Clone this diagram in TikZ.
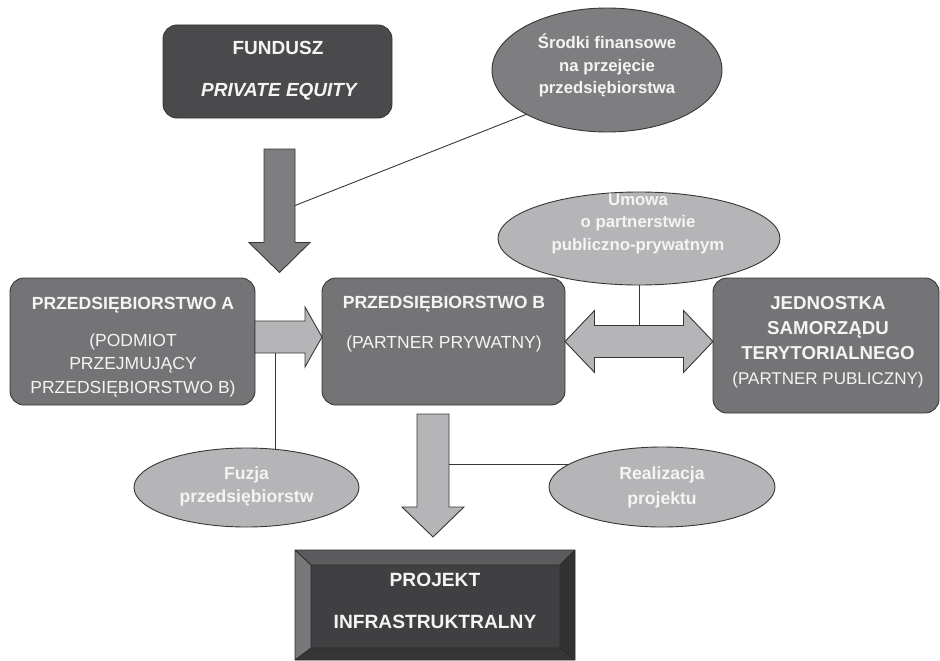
\documentclass[tikz,border=0pt]{standalone}
\usepackage{fontspec}
\setmainfont{Liberation Sans}
\usetikzlibrary{shapes.geometric,calc,backgrounds}
\definecolor{dk}{HTML}{4A4A4C}
\definecolor{md}{HTML}{747477}
\definecolor{mg}{HTML}{7E7E81}
\definecolor{lt}{HTML}{B5B5B8}
\definecolor{ol}{HTML}{363636}
\definecolor{tx}{HTML}{F4F4F4}
\definecolor{bvin}{HTML}{404042}
\definecolor{bvtop}{HTML}{5C5C5E}
\definecolor{bvleft}{HTML}{78787B}
\definecolor{bvright}{HTML}{323234}
\definecolor{bvbot}{HTML}{363638}
\newcommand\fsz[1]{\fontsize{#1}{21}\selectfont}
\newcommand\vblock[6]{\draw[#6] let \p1=(#1), \p2=(#2) in
  (\x1-#3,\y1) -- (\x1+#3,\y1) -- (\x1+#3,\y2+#5) -- (\x1+#4,\y2+#5) -- (\x2,\y2)
  -- (\x1-#4,\y2+#5) -- (\x1-#3,\y2+#5) -- cycle;}
\newcommand\hblock[6]{\draw[#6] let \p1=(#1), \p2=(#2) in
  (\x1,\y1+#3) -- (\x2-#5,\y1+#3) -- (\x2-#5,\y1+#4) -- (\x2,\y1) -- (\x2-#5,\y1-#4)
  -- (\x2-#5,\y1-#3) -- (\x1,\y1-#3) -- cycle;}
\newcommand\dblock[6]{\draw[#6] let \p1=(#1), \p2=(#2) in
  (\x1,\y1) -- (\x1+#5,\y1+#4) -- (\x1+#5,\y1+#3) -- (\x2-#5,\y1+#3) -- (\x2-#5,\y1+#4)
  -- (\x2,\y1) -- (\x2-#5,\y1-#4) -- (\x2-#5,\y1-#3) -- (\x1+#5,\y1-#3) -- (\x1+#5,\y1-#4) -- cycle;}
\begin{document}
\begin{tikzpicture}[x=1pt,y=-1pt,
  every node/.style={inner sep=0pt,outer sep=0pt},
  box/.style={draw=ol,line width=0.9pt,rounded corners=14pt},
  ell/.style={ellipse,draw=ol,line width=0.9pt},
  tb/.style={anchor=base,text=tx,font=\bfseries\fsz{#1}},
  tb/.default=17.6,
  tr/.style={anchor=base,text=tx,font=\fsz{#1}},
  tr/.default=17.5,
  et/.style={text=tx,align=center,font=\bfseries\fontsize{#1}{22.5}\selectfont},
  et/.default=16.7,
  barrow/.style={draw=ol,line width=0.9pt},
  link/.style={draw=ol,line width=0.9pt}]
\useasboundingbox (0,0) rectangle (940,661);

% boxes
\node[box,fill=dk,minimum width=229pt,minimum height=93pt] (fund) at (277.5,71.5) {};
\node[tb=19] (fund1) at (278,54.8) {FUNDUSZ};
\node[tb,font=\bfseries\itshape\fsz{19}] (fund2) at (279,96.8) {PRIVATE EQUITY};

\node[box,fill=md,minimum width=245pt,minimum height=127pt] (A) at (132.5,341.5) {};
\node[tb] (A1) at (133,309.3) {PRZEDSIĘBIORSTWO A};
\node[tr] (A2) at (133,346.3) {(PODMIOT};
\node[tr] (A3) at (133,369.3) {PRZEJMUJĄCY};
\node[tr] (A4) at (133,393.3) {PRZEDSIĘBIORSTWO B)};

\node[box,fill=md,minimum width=243pt,minimum height=127pt] (B) at (443.5,341.5) {};
\node[tb] (B1) at (444,308.3) {PRZEDSIĘBIORSTWO B};
\node[tr] (B2) at (444,348.3) {(PARTNER PRYWATNY)};

\node[box,fill=md,minimum width=226pt,minimum height=135pt] (J) at (826,345.5) {};
\node[tb=18.7] (J1) at (828,309.7) {JEDNOSTKA};
\node[tb=18.7] (J2) at (828,334.7) {SAMORZĄDU};
\node[tb=18.7] (J3) at (828,359.7) {TERYTORIALNEGO};
\node[tr=17] (J4) at (828,384.1) {(PARTNER PUBLICZNY)};

% ellipses
\node[ell,fill=mg,minimum width=230pt,minimum height=124pt] (sr) at (607,70) {};
\node[et] (srt) at (607,65.5) {Środki finansowe\\na przejęcie\\przedsiębiorstwa};
\node[ell,fill=lt,minimum width=282pt,minimum height=93pt] (um) at (639,238.5) {};
\node[et=16.8] (umt) at (638,223.5) {Umowa\\o partnerstwie\\publiczno-prywatnym};
\node[ell,fill=lt,minimum width=225pt,minimum height=79pt] (fu) at (246.5,487.5) {};
\node[et=17.6] (fut) at (246.5,486.5) {Fuzja\\przedsiębiorstw};
\node[ell,fill=lt,minimum width=226pt,minimum height=80pt] (re) at (662,487) {};
\node[et=17.6,font=\bfseries\fontsize{17.6}{25}\selectfont] (ret) at (662,487.5) {Realizacja\\projektu};

% project box (bevelled)
\node[minimum width=280pt,minimum height=110pt] (proj) at (435,605) {};
\coordinate (pnw) at ($(proj.north west)+(16,15)$);
\coordinate (pne) at ($(proj.north east)+(-15,15)$);
\coordinate (psw) at ($(proj.south west)+(16,-12)$);
\coordinate (pse) at ($(proj.south east)+(-15,-12)$);
\fill[bvtop] (proj.north west) -- (proj.north east) -- (pne) -- (pnw) -- cycle;
\fill[bvleft] (proj.north west) -- (pnw) -- (psw) -- (proj.south west) -- cycle;
\fill[bvright] (proj.north east) -- (proj.south east) -- (pse) -- (pne) -- cycle;
\fill[bvbot] (proj.south west) -- (psw) -- (pse) -- (proj.south east) -- cycle;
\fill[bvin] (pnw) rectangle (pse);
\draw[ol!80!black,line width=0.9pt] (proj.north west) rectangle (proj.south east)
  (proj.north west) -- (pnw) (proj.north east) -- (pne)
  (proj.south west) -- (psw) (proj.south east) -- (pse)
  (pnw) rectangle (pse);
\node[tb=19.2] (p1) at (435,586.9) {PROJEKT};
\node[tb=19.2] (p2) at (435,628.9) {INFRASTRUKTRALNY};

% block arrows
\coordinate (ta1) at ($(fund.south)+(2,31)$);
\coordinate (ta2) at ($(ta1)+(0,123.5)$);
\vblock{ta1}{ta2}{15.5pt}{30.5pt}{30pt}{barrow,fill=mg}

\coordinate (ab1) at ($(A.east)+(0,-4.5)$);
\coordinate (ab2) at ($(B.west)+(0,-4.5)$);
\hblock{ab1}{ab2}{16pt}{30pt}{17pt}{barrow,fill=lt}

\coordinate (bj1) at (B.east);
\coordinate (bj2) at (B.east -| J.west);
\dblock{bj1}{bj2}{16pt}{31pt}{29.5pt}{barrow,fill=lt}

\coordinate (bp1) at ($(B.south)+(-10.5,9)$);
\coordinate (bp2) at ($(proj.north)+(-2,-13)$);
\vblock{bp1}{bp2}{16pt}{31pt}{30pt}{barrow,fill=lt}

% thin connectors (behind)
\coordinate (tar) at ($(ta1)+(15.5,56.5)$);
\coordinate (srp) at ($(sr.center)+(-90,48)$);
\coordinate (abm) at ($(ab1)+(20,0)$);
\coordinate (bpm) at ($(bp1)+(0,50)$);
\begin{scope}[on background layer]
\draw[link] (tar) -- ($(tar)!1.15!(srp)$);
\draw[link] (abm) -- (abm |- fu.center);
\draw[link] (um.center) -- (um.center |- bj1);
\draw[link] (bpm) -- (bpm -| re.center);
\end{scope}
\end{tikzpicture}
\end{document}
